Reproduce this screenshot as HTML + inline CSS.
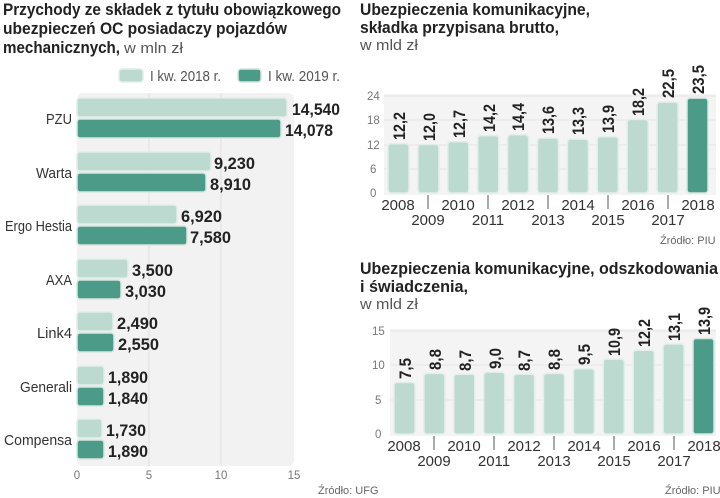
<!DOCTYPE html>
<html><head><meta charset="utf-8"><style>
body{margin:0;background:#fff;}
svg{display:block;font-family:"Liberation Sans",sans-serif;}
.t{font-weight:bold;font-size:17px;fill:#222;}
.s{font-size:15px;fill:#555;}
.c{font-size:15px;fill:#333;}
.v{font-weight:bold;font-size:17px;fill:#222;}
.ax{font-size:11.5px;fill:#777;}
.yr{font-size:15px;fill:#333;text-anchor:middle;}
.src{font-size:11px;fill:#666;}
.l{fill:#bcdad0;stroke:#e2eee9;stroke-width:1.5;}
.d{fill:#4c9b89;stroke:#d6e6e0;stroke-width:1.5;}
</style></head><body>
<svg width="720" height="498" viewBox="0 0 720 498">
<text class="t" x="3" y="15" textLength="338" lengthAdjust="spacingAndGlyphs">Przychody ze składek z tytułu obowiązkowego</text>
<text class="t" x="3" y="34" textLength="284" lengthAdjust="spacingAndGlyphs">ubezpieczeń OC posiadaczy pojazdów</text>
<text class="t" x="3" y="53" textLength="117" lengthAdjust="spacingAndGlyphs">mechanicznych,</text>
<text class="s" x="124" y="53" textLength="59" lengthAdjust="spacingAndGlyphs">w mln zł</text>
<rect x="119" y="69" width="24" height="13" rx="3" class="l"/>
<text class="s" x="150" y="81" textLength="71" lengthAdjust="spacingAndGlyphs">I kw. 2018 r.</text>
<rect x="238" y="69" width="23" height="13" rx="3" class="d"/>
<text class="s" x="268" y="81" textLength="72" lengthAdjust="spacingAndGlyphs">I kw. 2019 r.</text>
<rect x="77" y="93" width="217" height="373" rx="6" fill="#f2f2f2"/>
<g stroke="#e0e0e0" stroke-width="1"><line x1="149" y1="93" x2="149" y2="466"/><line x1="221" y1="93" x2="221" y2="466"/></g>
<g>
<rect class="l" x="77" y="98" width="210" height="19" rx="3"/><rect class="d" x="77" y="119" width="204" height="19" rx="3"/>
<text class="v" x="292" y="115" textLength="48" lengthAdjust="spacingAndGlyphs">14,540</text><text class="v" x="285" y="136" textLength="48" lengthAdjust="spacingAndGlyphs">14,078</text>
<text class="c" x="46" y="124" textLength="26" lengthAdjust="spacingAndGlyphs">PZU</text>
<rect class="l" x="77" y="152" width="134" height="19" rx="3"/><rect class="d" x="77" y="173" width="129" height="19" rx="3"/>
<text class="v" x="214" y="169" textLength="41" lengthAdjust="spacingAndGlyphs">9,230</text><text class="v" x="210" y="190" textLength="41" lengthAdjust="spacingAndGlyphs">8,910</text>
<text class="c" x="36" y="178" textLength="36" lengthAdjust="spacingAndGlyphs">Warta</text>
<rect class="l" x="77" y="205" width="100" height="19" rx="3"/><rect class="d" x="77" y="226" width="110" height="19" rx="3"/>
<text class="v" x="181" y="222" textLength="41" lengthAdjust="spacingAndGlyphs">6,920</text><text class="v" x="190" y="243" textLength="41" lengthAdjust="spacingAndGlyphs">7,580</text>
<text class="c" x="5" y="231" textLength="67" lengthAdjust="spacingAndGlyphs">Ergo Hestia</text>
<rect class="l" x="77" y="259" width="51" height="19" rx="3"/><rect class="d" x="77" y="280" width="44" height="19" rx="3"/>
<text class="v" x="132" y="276" textLength="41" lengthAdjust="spacingAndGlyphs">3,500</text><text class="v" x="125" y="297" textLength="41" lengthAdjust="spacingAndGlyphs">3,030</text>
<text class="c" x="46" y="285" textLength="26" lengthAdjust="spacingAndGlyphs">AXA</text>
<rect class="l" x="77" y="312" width="36" height="19" rx="3"/><rect class="d" x="77" y="333" width="37" height="19" rx="3"/>
<text class="v" x="117" y="329" textLength="41" lengthAdjust="spacingAndGlyphs">2,490</text><text class="v" x="118" y="350" textLength="41" lengthAdjust="spacingAndGlyphs">2,550</text>
<text class="c" x="37" y="338" textLength="35" lengthAdjust="spacingAndGlyphs">Link4</text>
<rect class="l" x="77" y="366" width="27" height="19" rx="3"/><rect class="d" x="77" y="387" width="27" height="19" rx="3"/>
<text class="v" x="108" y="383" textLength="40" lengthAdjust="spacingAndGlyphs">1,890</text><text class="v" x="108" y="404" textLength="40" lengthAdjust="spacingAndGlyphs">1,840</text>
<text class="c" x="20" y="392" textLength="52" lengthAdjust="spacingAndGlyphs">Generali</text>
<rect class="l" x="77" y="419" width="25" height="19" rx="3"/><rect class="d" x="77" y="440" width="27" height="19" rx="3"/>
<text class="v" x="106" y="436" textLength="40" lengthAdjust="spacingAndGlyphs">1,730</text><text class="v" x="108" y="457" textLength="40" lengthAdjust="spacingAndGlyphs">1,890</text>
<text class="c" x="4" y="445" textLength="68" lengthAdjust="spacingAndGlyphs">Compensa</text>
</g>
<g class="ax" text-anchor="middle"><text x="77" y="479">0</text><text x="149" y="479">5</text><text x="221" y="479">10</text><text x="294" y="479">15</text></g>
<text class="src" x="318" y="494">Źródło: UFG</text>

<text class="t" x="360" y="15" textLength="230" lengthAdjust="spacingAndGlyphs">Ubezpieczenia komunikacyjne,</text>
<text class="t" x="360" y="33" textLength="199" lengthAdjust="spacingAndGlyphs">składka przypisana brutto,</text>
<text class="s" x="360" y="50" textLength="58" lengthAdjust="spacingAndGlyphs">w mld zł</text>
<rect x="384" y="94" width="332" height="101" fill="#f4f4f4"/>
<g stroke="#e4e4e4"><line x1="384" y1="96" x2="716" y2="96"/><line x1="384" y1="120" x2="716" y2="120"/><line x1="384" y1="145" x2="716" y2="145"/><line x1="384" y1="169" x2="716" y2="169"/></g>
<g class="ax"><text x="367" y="100">24</text><text x="367" y="124">18</text><text x="367" y="149">12</text><text x="370" y="173">6</text><text x="370" y="197">0</text></g>
<text class="src" x="660" y="244">Źródło: PIU</text>

<text class="t" x="360" y="274" textLength="358" lengthAdjust="spacingAndGlyphs">Ubezpieczenia komunikacyjne, odszkodowania</text>
<text class="t" x="360" y="292" textLength="108" lengthAdjust="spacingAndGlyphs">i świadczenia,</text>
<text class="s" x="360" y="309" textLength="58" lengthAdjust="spacingAndGlyphs">w mld zł</text>
<rect x="390" y="329" width="326" height="107" fill="#f4f4f4"/>
<g stroke="#e4e4e4"><line x1="390" y1="331" x2="716" y2="331"/><line x1="390" y1="365" x2="716" y2="365"/><line x1="390" y1="400" x2="716" y2="400"/></g>
<g class="ax"><text x="372" y="335">15</text><text x="372" y="369">10</text><text x="375" y="404">5</text><text x="375" y="438">0</text></g>
<text class="src" x="665" y="494">Źródło: PIU</text>

<g>
<rect class="l" x="388" y="143.7" width="21" height="49.3" rx="3"/>
<rect class="l" x="417.9" y="144.5" width="21" height="48.5" rx="3"/>
<rect class="l" x="447.8" y="141.7" width="21" height="51.3" rx="3"/>
<rect class="l" x="477.7" y="135.6" width="21" height="57.4" rx="3"/>
<rect class="l" x="507.6" y="134.8" width="21" height="58.2" rx="3"/>
<rect class="l" x="537.5" y="138.1" width="21" height="54.9" rx="3"/>
<rect class="l" x="567.4" y="139.3" width="21" height="53.7" rx="3"/>
<rect class="l" x="597.3" y="136.8" width="21" height="56.2" rx="3"/>
<rect class="l" x="627.2" y="119.5" width="21" height="73.5" rx="3"/>
<rect class="l" x="657.1" y="102.1" width="21" height="90.9" rx="3"/>
<rect class="d" x="687" y="98.1" width="21" height="94.9" rx="3"/>
</g>
<g class="v">
<text transform="translate(405,140) rotate(-90)" textLength="28" lengthAdjust="spacingAndGlyphs">12,2</text>
<text transform="translate(435,141) rotate(-90)" textLength="28" lengthAdjust="spacingAndGlyphs">12,0</text>
<text transform="translate(465,138) rotate(-90)" textLength="28" lengthAdjust="spacingAndGlyphs">12,7</text>
<text transform="translate(495,132) rotate(-90)" textLength="28" lengthAdjust="spacingAndGlyphs">14,2</text>
<text transform="translate(524,131) rotate(-90)" textLength="28" lengthAdjust="spacingAndGlyphs">14,4</text>
<text transform="translate(554,134) rotate(-90)" textLength="28" lengthAdjust="spacingAndGlyphs">13,6</text>
<text transform="translate(584,135) rotate(-90)" textLength="28" lengthAdjust="spacingAndGlyphs">13,3</text>
<text transform="translate(614,133) rotate(-90)" textLength="28" lengthAdjust="spacingAndGlyphs">13,9</text>
<text transform="translate(644,116) rotate(-90)" textLength="28" lengthAdjust="spacingAndGlyphs">18,2</text>
<text transform="translate(674,98) rotate(-90)" textLength="29" lengthAdjust="spacingAndGlyphs">22,5</text>
<text transform="translate(704,94) rotate(-90)" textLength="29" lengthAdjust="spacingAndGlyphs">23,5</text>
</g>
<g class="yr">
<text x="398" y="210">2008</text><text x="458" y="210">2010</text><text x="518" y="210">2012</text><text x="578" y="210">2014</text><text x="638" y="210">2016</text><text x="698" y="210">2018</text>
<text x="428" y="225">2009</text><text x="488" y="225">2011</text><text x="548" y="225">2013</text><text x="608" y="225">2015</text><text x="668" y="225">2017</text>
</g>
<g stroke="#555"><line x1="428" y1="195" x2="428" y2="209"/><line x1="488" y1="195" x2="488" y2="209"/><line x1="548" y1="195" x2="548" y2="209"/><line x1="608" y1="195" x2="608" y2="209"/><line x1="668" y1="195" x2="668" y2="209"/></g>

<g>
<rect class="l" x="394" y="382.5" width="21" height="51.5" rx="3"/>
<rect class="l" x="423.9" y="373.5" width="21" height="60.5" rx="3"/>
<rect class="l" x="453.8" y="374.2" width="21" height="59.8" rx="3"/>
<rect class="l" x="483.7" y="372.2" width="21" height="61.8" rx="3"/>
<rect class="l" x="513.6" y="374.2" width="21" height="59.8" rx="3"/>
<rect class="l" x="543.5" y="373.5" width="21" height="60.5" rx="3"/>
<rect class="l" x="573.4" y="368.7" width="21" height="65.3" rx="3"/>
<rect class="l" x="603.3" y="359.1" width="21" height="74.9" rx="3"/>
<rect class="l" x="633.2" y="350.2" width="21" height="83.8" rx="3"/>
<rect class="l" x="663.1" y="344" width="21" height="90" rx="3"/>
<rect class="d" x="693" y="338.5" width="21" height="95.5" rx="3"/>
</g>
<g class="v">
<text transform="translate(411,379) rotate(-90)" textLength="21" lengthAdjust="spacingAndGlyphs">7,5</text>
<text transform="translate(441,370) rotate(-90)" textLength="21" lengthAdjust="spacingAndGlyphs">8,8</text>
<text transform="translate(471,371) rotate(-90)" textLength="21" lengthAdjust="spacingAndGlyphs">8,7</text>
<text transform="translate(501,369) rotate(-90)" textLength="21" lengthAdjust="spacingAndGlyphs">9,0</text>
<text transform="translate(530,371) rotate(-90)" textLength="21" lengthAdjust="spacingAndGlyphs">8,7</text>
<text transform="translate(560,370) rotate(-90)" textLength="21" lengthAdjust="spacingAndGlyphs">8,8</text>
<text transform="translate(590,365) rotate(-90)" textLength="21" lengthAdjust="spacingAndGlyphs">9,5</text>
<text transform="translate(620,356) rotate(-90)" textLength="28" lengthAdjust="spacingAndGlyphs">10,9</text>
<text transform="translate(650,347) rotate(-90)" textLength="28" lengthAdjust="spacingAndGlyphs">12,2</text>
<text transform="translate(680,341) rotate(-90)" textLength="28" lengthAdjust="spacingAndGlyphs">13,1</text>
<text transform="translate(710,335) rotate(-90)" textLength="28" lengthAdjust="spacingAndGlyphs">13,9</text>
</g>
<g class="yr">
<text x="404" y="451">2008</text><text x="464" y="451">2010</text><text x="524" y="451">2012</text><text x="584" y="451">2014</text><text x="644" y="451">2016</text><text x="704" y="451">2018</text>
<text x="434" y="466">2009</text><text x="494" y="466">2011</text><text x="554" y="466">2013</text><text x="614" y="466">2015</text><text x="674" y="466">2017</text>
</g>
<g stroke="#555"><line x1="434" y1="436" x2="434" y2="450"/><line x1="494" y1="436" x2="494" y2="450"/><line x1="554" y1="436" x2="554" y2="450"/><line x1="614" y1="436" x2="614" y2="450"/><line x1="674" y1="436" x2="674" y2="450"/></g>
</svg>
</body></html>
